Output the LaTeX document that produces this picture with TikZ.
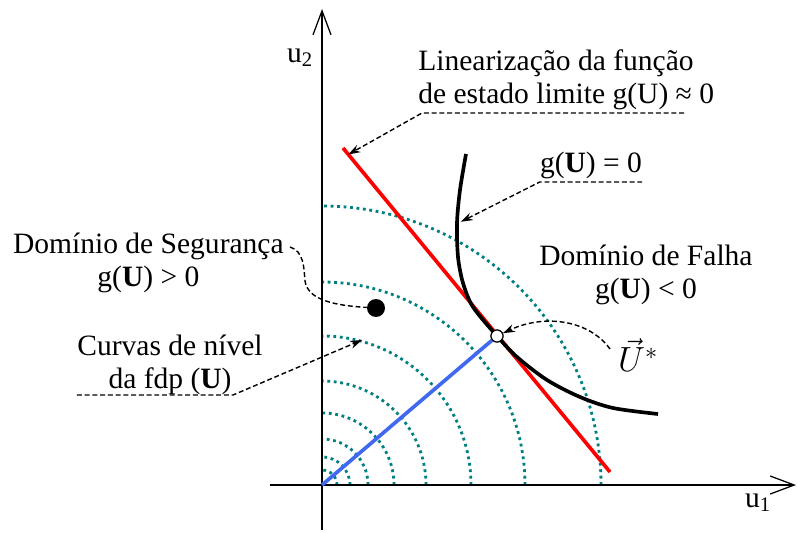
\documentclass[tikz,border=0pt]{standalone}
\usepackage{fontspec}
\setmainfont{Liberation Serif}
\usetikzlibrary{positioning,calc,arrows.meta}
\tikzset{>={Stealth[length=3mm,width=2mm]}}
\definecolor{verdeazul}{RGB}{0,128,128}
\definecolor{azul}{RGB}{65,105,240}
\definecolor{vermelho}{RGB}{255,0,0}

\begin{document}
\begin{tikzpicture}[
    nivel/.style={verdeazul, line width=2pt, dash pattern=on 2pt off 2.6pt},
    chamada/.style={line width=1pt, dash pattern=on 3.5pt off 2pt},
    rotulo/.style={font=\fontsize{21}{23.5}\selectfont\rmfamily, inner sep=0pt},
    eixo/.style={line width=0.9pt, -{Straight Barb[length=6mm,width=4.5mm]}}
]
\useasboundingbox (-8.05,-1.175) rectangle (11.9,12.125);
\coordinate (O) at (0,0);

% curvas de nivel da fdp
\foreach \r in {0.375,0.7,1.15,1.8,2.6,3.725,5.075,6.975}
  \draw[nivel] (\r,0) arc[start angle=0, end angle=90, radius=\r];

% eixos
\draw[eixo] (-1.3,0) -- (11.85,0);
\draw[eixo] (0,-1.125) -- (0,11.9);
\node[rotulo] (u1) at (10.9,-0.45) {u\textsubscript{1}};
\node[rotulo] (u2) at (-0.55,10.68) {u\textsubscript{2}};

% ponto de projeto e linearizacao
\node[circle, draw, fill=white, inner sep=0pt, minimum size=0.3cm, line width=0.8pt] (ustar) at (4.375,3.725) {};
\coordinate (r1) at (0.525,8.425);
\coordinate (r2) at (7.2,0.325);
\draw[azul, line width=2.6pt] (O) -- (ustar);
\draw[vermelho, line width=2.6pt] (r1) -- (r2);
\draw[line width=2.6pt] plot[smooth] coordinates {(3.6,8.275) (3.45,7.375) (3.375,6.55) (3.4,5.7) (3.525,5.05) (3.775,4.45) (4.375,3.725) (4.875,3.2) (5.625,2.625) (6.45,2.2) (7.275,1.925) (8.4,1.775)};
\node[circle, draw, fill=white, inner sep=0pt, minimum size=0.3cm, line width=0.8pt] at (ustar) {};
\node[circle, fill, inner sep=0pt, minimum size=0.45cm] (pto) at (1.35,4.425) {};

% textos
\node[rotulo, align=left, anchor=west] (lin) at (2.4,10.14) {Linearização da função\\de estado limite g(U) ≈ 0};
\node[rotulo, anchor=base] (gzero) at (6.725,7.8) {g(\textbf{U}) = 0};
\node[rotulo, align=center] (falha) at (8.1,5.25) {Domínio de Falha\\g(\textbf{U}) < 0};
\node[rotulo, align=center] (seg) at (-4.34,5.55) {Domínio de Segurança\\g(\textbf{U}) > 0};
\node[rotulo, align=center] (curvas) at (-3.8,3.01) {Curvas de nível\\da fdp (\textbf{U})};
\node[rotulo, font=\fontsize{25}{28}\selectfont] (ustarlbl) at (7.9,3.25) {$\vec{U}^{*}$};

% chamadas
\coordinate (linA) at (9.05,9.3);
\coordinate (linB) at (2.5,9.3);
\coordinate (gA) at ($(gzero.base east)+(0,-0.225)$);
\coordinate (gB) at ($(gzero.base west)+(0,-0.225)$);
\coordinate (gAlvo) at (3.47,6.58);
\coordinate (segIni) at (-0.8,5.95);
\coordinate (curA) at (-6.125,2.25);
\coordinate (curB) at (-2.225,2.25);
\coordinate (curAlvo) at (1.0,3.625);
\coordinate (uIni) at (7.2,3.4);
\draw[chamada, ->] (linA) -- (linB) -- ($(r1)!0.02!(r2)$);
\draw[chamada, ->] (gA) -- (gB) -- (gAlvo);
\draw[chamada] (segIni) .. controls (-0.45,5.85) and (-0.45,5.4) .. (-0.43,5.15) .. controls (-0.4,4.7) and (0.1,4.5) .. (pto);
\draw[chamada, ->] (curA) -- (curB) -- (curAlvo);
\draw[chamada, ->] (uIni) .. controls (6.7,4.1) and (5.6,4.3) .. (ustar);
\end{tikzpicture}
\end{document}
